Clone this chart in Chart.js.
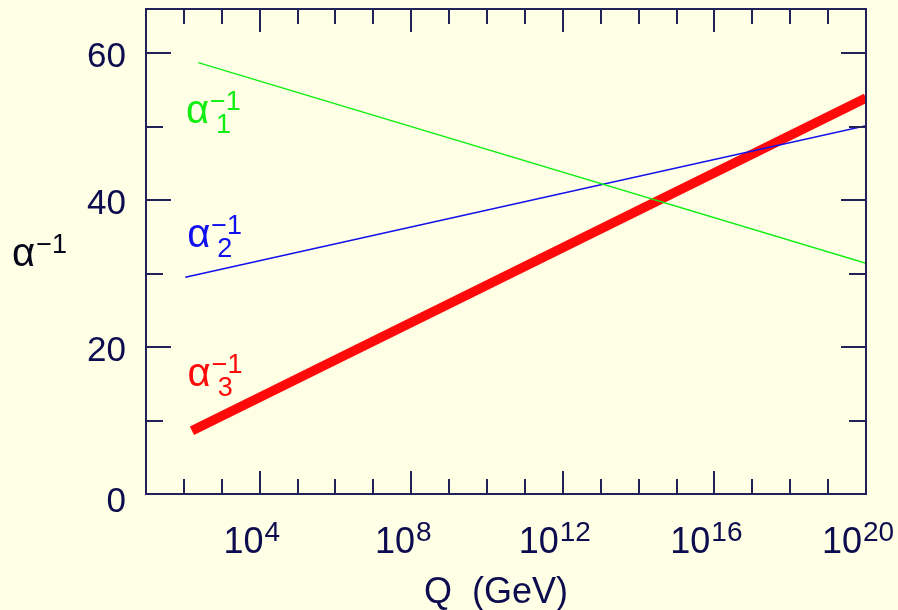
<!DOCTYPE html>
<html>
<head>
<meta charset="utf-8">
<script src="https://cdn.jsdelivr.net/npm/chart.js@4/dist/chart.umd.min.js"></script>
<style>
  html, body { margin: 0; padding: 0; background: #ffffe6; }
  #wrap { width: 898px; height: 610px; }
</style>
</head>
<body>
<div id="wrap"><canvas id="chart" width="898" height="610"></canvas></div>
<script>
// running inverse couplings vs energy scale Q (GeV)
const qAlpha1 = [240, 1e20];
const alpha1Inv = [58.7, 31.4];
const qAlpha2 = [109, 1e20];
const alpha2Inv = [29.5, 50.1];
const qAlpha3 = [163, 1e20];
const alpha3Inv = [8.6, 53.9];

const yTickValues = [10, 20, 30, 40, 50, 60];
const yTickLabels = ["0", "20", "40", "60"];
const xTickExponents = [2, 3, 4, 5, 6, 7, 8, 9, 10, 11, 12, 13, 14, 15, 16, 17, 18, 19];
const xLabelExponents = ["4", "8", "12", "16", "20"];

const BG = "#ffffe6";
const AXIS = "#22225a";
const TEXT = "#0c0c4e";
const FONT = "'Liberation Sans', Arial, Helvetica, sans-serif";

const toPoints = (qs, vals) => qs.map((q, i) => ({ x: q, y: vals[i] }));

// base text + optional superscript / subscript
function drawScript(ctx, x, y, base, sup, sub, color) {
  ctx.fillStyle = color;
  ctx.textAlign = "left";
  ctx.textBaseline = "alphabetic";
  ctx.font = "40px " + FONT;
  ctx.fillText(base, x, y);
  const w = ctx.measureText(base).width;
  ctx.font = "27px " + FONT;
  if (sup) ctx.fillText(sup, x + w + 1, y - 13);
  if (sub) ctx.fillText(sub, x + w + 7, y + 10);
}

const framePlugin = {
  id: "frame",
  beforeDraw(chart) {
    const ctx = chart.ctx;
    ctx.save();
    ctx.fillStyle = BG;
    ctx.fillRect(0, 0, chart.width, chart.height);
    ctx.restore();
  },
  afterDraw(chart) {
    const { ctx, chartArea: a, scales: { x, y } } = chart;
    ctx.save();
    ctx.strokeStyle = AXIS;
    ctx.lineWidth = 2;
    ctx.strokeRect(a.left, a.top, a.right - a.left, a.bottom - a.top);

    // x ticks, inward, bottom and top
    ctx.beginPath();
    xTickExponents.forEach(e => {
      const px = Math.round(x.getPixelForValue(Math.pow(10, e)));
      const len = e % 4 === 0 ? 23 : 15;
      ctx.moveTo(px, a.bottom); ctx.lineTo(px, a.bottom - len);
      ctx.moveTo(px, a.top); ctx.lineTo(px, a.top + len);
    });
    // y ticks, inward, left and right
    yTickValues.forEach(v => {
      const py = Math.round(y.getPixelForValue(v));
      const len = v % 20 === 0 ? 25 : 17;
      ctx.moveTo(a.left, py); ctx.lineTo(a.left + len, py);
      ctx.moveTo(a.right, py); ctx.lineTo(a.right - len, py);
    });
    ctx.stroke();

    // y tick labels
    ctx.fillStyle = TEXT;
    ctx.font = "35px " + FONT;
    ctx.textAlign = "right";
    ctx.textBaseline = "alphabetic";
    yTickLabels.forEach(t => {
      const py = y.getPixelForValue(Number(t));
      ctx.fillText(t, 126, py + (t === "0" ? 18 : 14));
    });

    // x tick labels 10^n
    xLabelExponents.forEach(e => {
      const px = x.getPixelForValue(Math.pow(10, Number(e)));
      ctx.font = "36px " + FONT;
      const wb = ctx.measureText("10").width;
      ctx.font = "28px " + FONT;
      const ws = ctx.measureText(e).width;
      const left = px - 8 - (wb + ws + 1) / 2;
      ctx.textAlign = "left";
      ctx.fillStyle = TEXT;
      ctx.font = "36px " + FONT;
      ctx.fillText("10", left, 553);
      ctx.font = "28px " + FONT;
      ctx.fillText(e, left + wb + 1, 541);
    });

    // axis titles
    ctx.textAlign = "left";
    ctx.font = "36px " + FONT;
    ctx.fillStyle = TEXT;
    ctx.fillText("Q  (GeV)", 424, 603);
    drawScript(ctx, 12, 266, "α", "−1", null, "#05051a");

    // curve labels, anchored in data coordinates
    const tags = [
      { q: 113, a: 50.5, sub: "1", color: "#11ee11" },
      { q: 122, a: 33.6, sub: "2", color: "#1010ee" },
      { q: 125, a: 14.7, sub: "3", color: "#ff0a0a" }
    ];
    tags.forEach(t => {
      drawScript(ctx, x.getPixelForValue(t.q), y.getPixelForValue(t.a), "α", "−1", t.sub, t.color);
    });
    ctx.restore();
  }
};

new Chart(document.getElementById("chart"), {
  type: "line",
  data: {
    datasets: [
      { data: toPoints(qAlpha1, alpha1Inv), borderColor: "#11ee11", borderWidth: 1.3 },
      { data: toPoints(qAlpha2, alpha2Inv), borderColor: "#1010ee", borderWidth: 1.5 },
      { data: toPoints(qAlpha3, alpha3Inv), borderColor: "#ff0a0a", borderWidth: 9.5, borderCapStyle: "butt" }
    ]
  },
  options: {
    responsive: false,
    devicePixelRatio: 1,
    animation: false,
    elements: { point: { radius: 0 }, line: { tension: 0 } },
    layout: { padding: { top: 9, right: 32, left: 0, bottom: 0 } },
    plugins: { legend: { display: false }, tooltip: { enabled: false } },
    scales: {
      x: {
        type: "logarithmic",
        min: 10,
        max: 1e20,
        ticks: { display: false },
        grid: { display: false },
        border: { display: false },
        afterFit: s => { s.height = 116; }
      },
      y: {
        min: 0,
        max: 66,
        ticks: { display: false },
        grid: { display: false },
        border: { display: false },
        afterFit: s => { s.width = 146; }
      }
    }
  },
  plugins: [framePlugin]
});
</script>
</body>
</html>
